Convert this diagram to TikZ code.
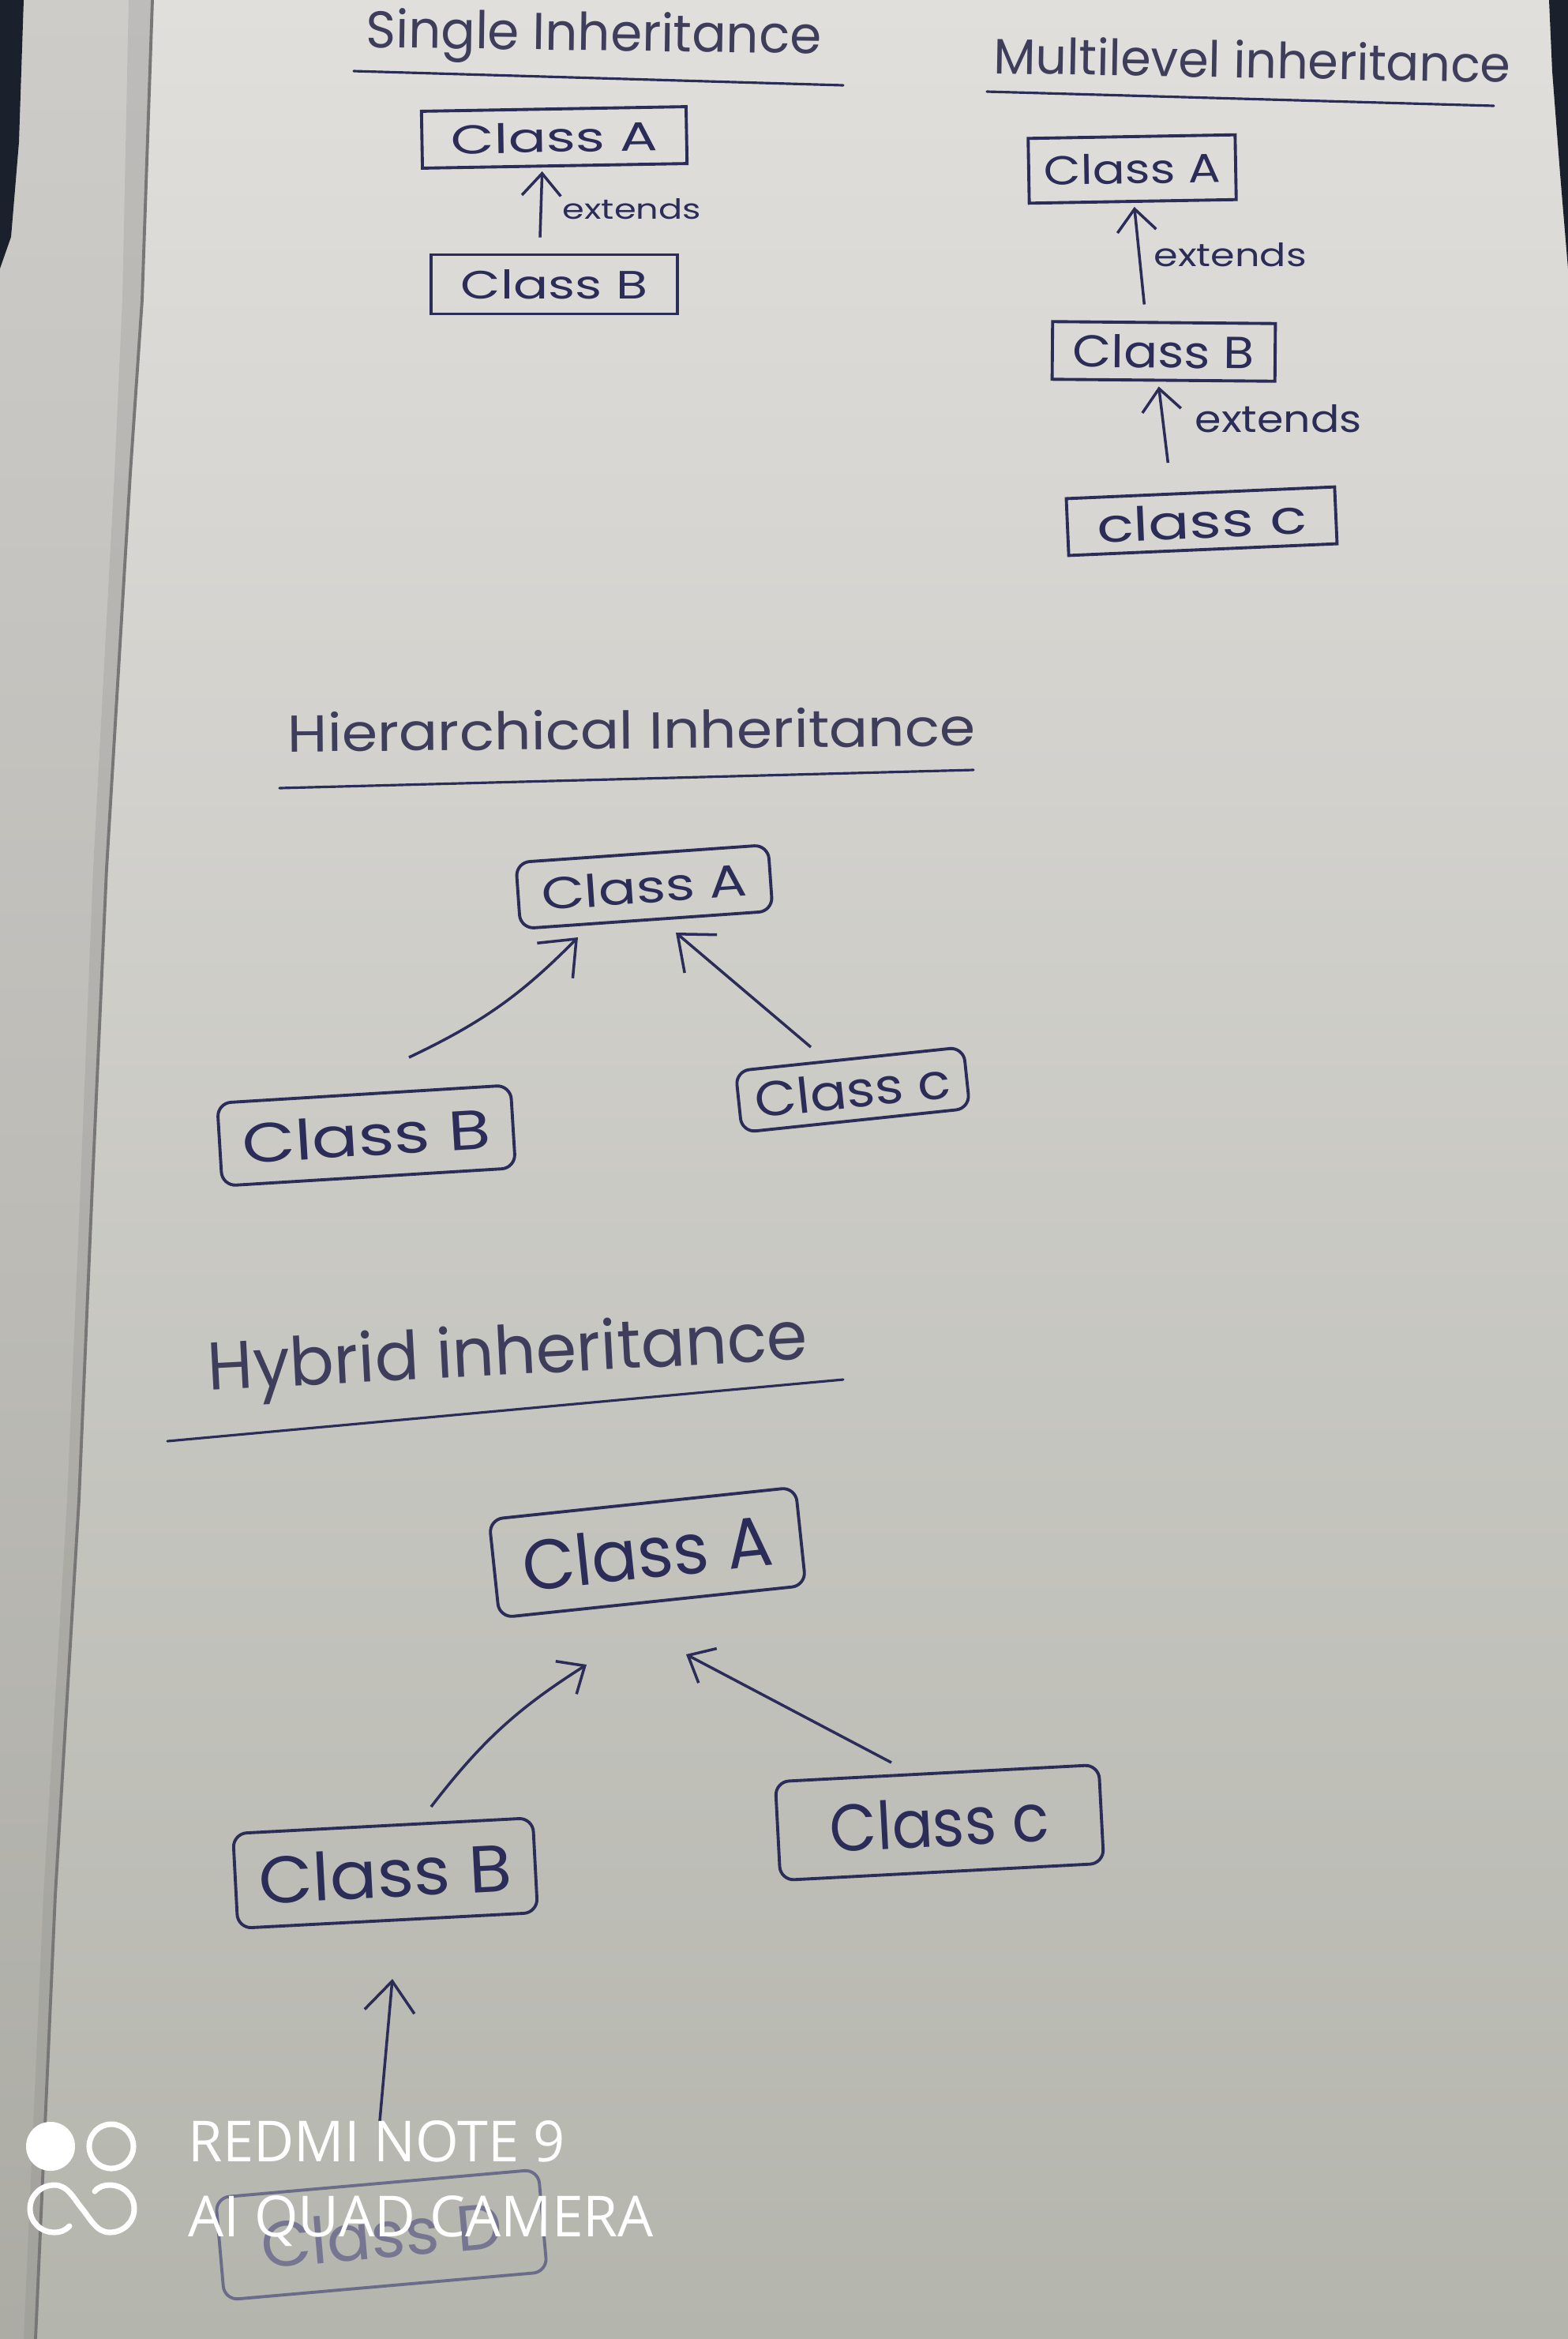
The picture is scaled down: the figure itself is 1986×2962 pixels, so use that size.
\documentclass[tikz,border=0pt]{standalone}
\usepackage{graphicx}
\usepackage{fontspec}
\setmainfont{Poppins}
\newfontfamily\wmfont{Open Sans}
\usetikzlibrary{arrows.meta,calc}
\definecolor{inkc}{RGB}{44,44,88}
\definecolor{titlec}{RGB}{62,62,92}
\definecolor{papertop}{RGB}{225,223,220}
\definecolor{papermid}{RGB}{210,209,204}
\definecolor{paperbot}{RGB}{180,181,173}
\definecolor{striptop}{RGB}{206,204,201}
\definecolor{stripbot}{RGB}{172,172,165}
\definecolor{edgec}{RGB}{120,118,118}
\definecolor{darkc}{RGB}{26,32,44}
\newcommand{\hw}[3]{\resizebox{#1}{#2}{#3}}
\tikzset{
  box/.style={draw=inkc, line width=1.1pt, inner sep=0pt, text=inkc},
  rbox/.style={box, rounded corners=5pt},
  arr/.style={draw=inkc, line width=1pt, -{Straight Barb[length=8pt,width=14pt]}},
  arrb/.style={draw=inkc, line width=1pt, -{Straight Barb[length=11pt,width=18pt]}},
  lbl/.style={inner sep=0pt, anchor=base west, text=inkc},
  ttl/.style={inner sep=0pt, anchor=base west, text=titlec},
  uline/.style={draw=inkc, line width=0.9pt, line cap=round},
  wm/.style={inner sep=0pt, anchor=base west, text=white}
}
\begin{document}
\begin{tikzpicture}[x=0.01cm,y=-0.01cm]
\useasboundingbox (0,0) rectangle (1986,2962);
% paper
\shade[top color=papertop, middle color=papermid, bottom color=paperbot] (0,0) rectangle (1986,2962);
% left strip beyond the page edge
\shade[top color=striptop, bottom color=stripbot] (0,0) -- (193,0) -- (180,380) -- (165,600) -- (135,1100) -- (117,1500) -- (100,1900) -- (70,2400) -- (45,2962) -- (0,2962) -- cycle;
\fill[edgec, opacity=0.18] (163,0) -- (193,0) -- (180,380) -- (165,600) -- (135,1100) -- (117,1500) -- (100,1900) -- (70,2400) -- (45,2962) -- (30,2962) -- (55,2400) -- (85,1900) -- (102,1500) -- (118,1100) -- (145,600) -- (155,380) -- cycle;
\draw[edgec, line width=1.1pt] (193,0) -- (180,380) -- (165,600) -- (135,1100) -- (117,1500) -- (100,1900) -- (70,2400) -- (45,2962);
\fill[darkc] (0,0) -- (30,0) -- (24,180) -- (14,300) -- (0,340) -- cycle;
\fill[darkc] (1962,0) -- (1986,0) -- (1986,340) -- (1976,220) -- (1966,90) -- cycle;

% ---------- Single inheritance
\node[ttl, rotate=-0.8] (t1) at (463,60) {\hw{5.76cm}{0.50cm}{Single Inheritance}};
\draw[uline] (448,90) -- (1068,108);
\node[box, minimum width=3.35cm, minimum height=0.72cm, rotate=1] (sA) at (702,174) {\hw{2.61cm}{0.38cm}{Class A}};
\node[box, minimum width=3.11cm, minimum height=0.75cm] (sB) at (702,360) {\hw{2.36cm}{0.37cm}{Class B}};
\draw[arr] ($(sB.north)+(-18,-20)$) -- ($(sA.south)+(-16,5)$);
\node[lbl] (e1) at (712,277) {\hw{1.75cm}{0.26cm}{extends}};

% ---------- Multilevel inheritance
\node[ttl, rotate=-1] (t2) at (1258,93) {\hw{6.54cm}{0.48cm}{Multilevel inheritance}};
\draw[uline] (1250,116) -- (1892,134);
\node[box, minimum width=2.62cm, minimum height=0.82cm, rotate=1] (mA) at (1434,214) {\hw{2.23cm}{0.38cm}{Class A}};
\node[box, minimum width=2.82cm, minimum height=0.73cm, rotate=-0.5] (mB) at (1474,445) {\hw{2.30cm}{0.42cm}{Class B}};
\node[box, minimum width=3.40cm, minimum height=0.72cm, rotate=2.5] (mC) at (1522,660) {\hw{2.66cm}{0.44cm}{class c}};
\draw[arr] ($(mB.north)+(-25,-21)$) -- ($(mA.south)+(2,5)$);
\draw[arr] ($(mC.north)+(-41,-36)$) -- ($(mB.south)+(-6,6)$);
\node[lbl] (e2) at (1461,337) {\hw{1.93cm}{0.30cm}{extends}};
\node[lbl] (e3) at (1513,547) {\hw{2.11cm}{0.35cm}{extends}};

% ---------- Hierarchical inheritance
\node[ttl, rotate=0.5] (t3) at (364,952) {\hw{8.71cm}{0.50cm}{Hierarchical Inheritance}};
\draw[uline] (354,998) -- (1233,975);
\node[rbox, minimum width=3.20cm, minimum height=0.84cm, rotate=4] (hA) at (816,1123) {\hw{2.61cm}{0.42cm}{Class A}};
\node[rbox, minimum width=3.72cm, minimum height=1.05cm, rotate=3.5] (hB) at (464,1438) {\hw{3.15cm}{0.52cm}{Class B}};
\node[rbox, minimum width=2.90cm, minimum height=0.78cm, rotate=6] (hC) at (1080,1380) {\hw{2.48cm}{0.46cm}{Class c}};
\draw[arrb] ($(hB.center)+(54,-99)$) to[bend right=10] ($(hA.center)+(-84,64)$);
\draw[arrb] ($(hC.center)+(-53,-54)$) -- ($(hA.center)+(40,58)$);

% ---------- Hybrid inheritance
\node[ttl, rotate=3] (t4) at (264,1761) {\hw{7.60cm}{0.65cm}{Hybrid inheritance}};
\draw[uline] (212,1825) -- (1068,1747);
\node[rbox, minimum width=3.90cm, minimum height=1.25cm, rotate=6] (yA) at (820,1966) {\hw{3.18cm}{0.66cm}{Class A}};
\node[rbox, minimum width=3.80cm, minimum height=1.20cm, rotate=3] (yB) at (488,2372) {\hw{3.20cm}{0.62cm}{Class B}};
\node[rbox, minimum width=4.10cm, minimum height=1.25cm, rotate=3] (yC) at (1190,2308) {\hw{2.78cm}{0.62cm}{Class c}};
\node[rbox, draw=inkc!70, text=inkc!65, minimum width=4.10cm, minimum height=1.30cm, rotate=5] (yD) at (483,2830) {\hw{3.06cm}{0.60cm}{Class D}};
\draw[arr] ($(yB.center)+(58,-84)$) to[bend left=10] ($(yA.center)+(-77,142)$);
\draw[arr] ($(yC.center)+(-61,-76)$) -- ($(yA.center)+(49,129)$);
\draw[arrb] ($(yD.center)+(-2,-144)$) -- ($(yB.center)+(9,134)$);

% ---------- camera watermark
\fill[white] (64,2718) circle[radius=0.31cm];
\draw[white, line width=2pt] (141,2718) circle[radius=0.28cm];
\draw[white, line width=2pt, line cap=round]
  (88,2819) .. controls (82,2825) and (76,2827) .. (69,2827)
  .. controls (52,2827) and (38,2814) .. (38,2797)
  .. controls (38,2780) and (52,2767) .. (69,2767)
  .. controls (86,2767) and (94,2785) .. (104,2797)
  .. controls (114,2809) and (122,2827) .. (139,2827)
  .. controls (156,2827) and (170,2814) .. (170,2797)
  .. controls (170,2780) and (156,2767) .. (139,2767)
  .. controls (132,2767) and (125,2769) .. (120,2775);
\node[wm] (w1) at (238,2737) {\resizebox{4.77cm}{0.52cm}{\wmfont REDMI NOTE 9}};
\node[wm] (w2) at (238,2832) {\resizebox{5.89cm}{0.52cm}{\wmfont AI QUAD CAMERA}};
\end{tikzpicture}
\end{document}
